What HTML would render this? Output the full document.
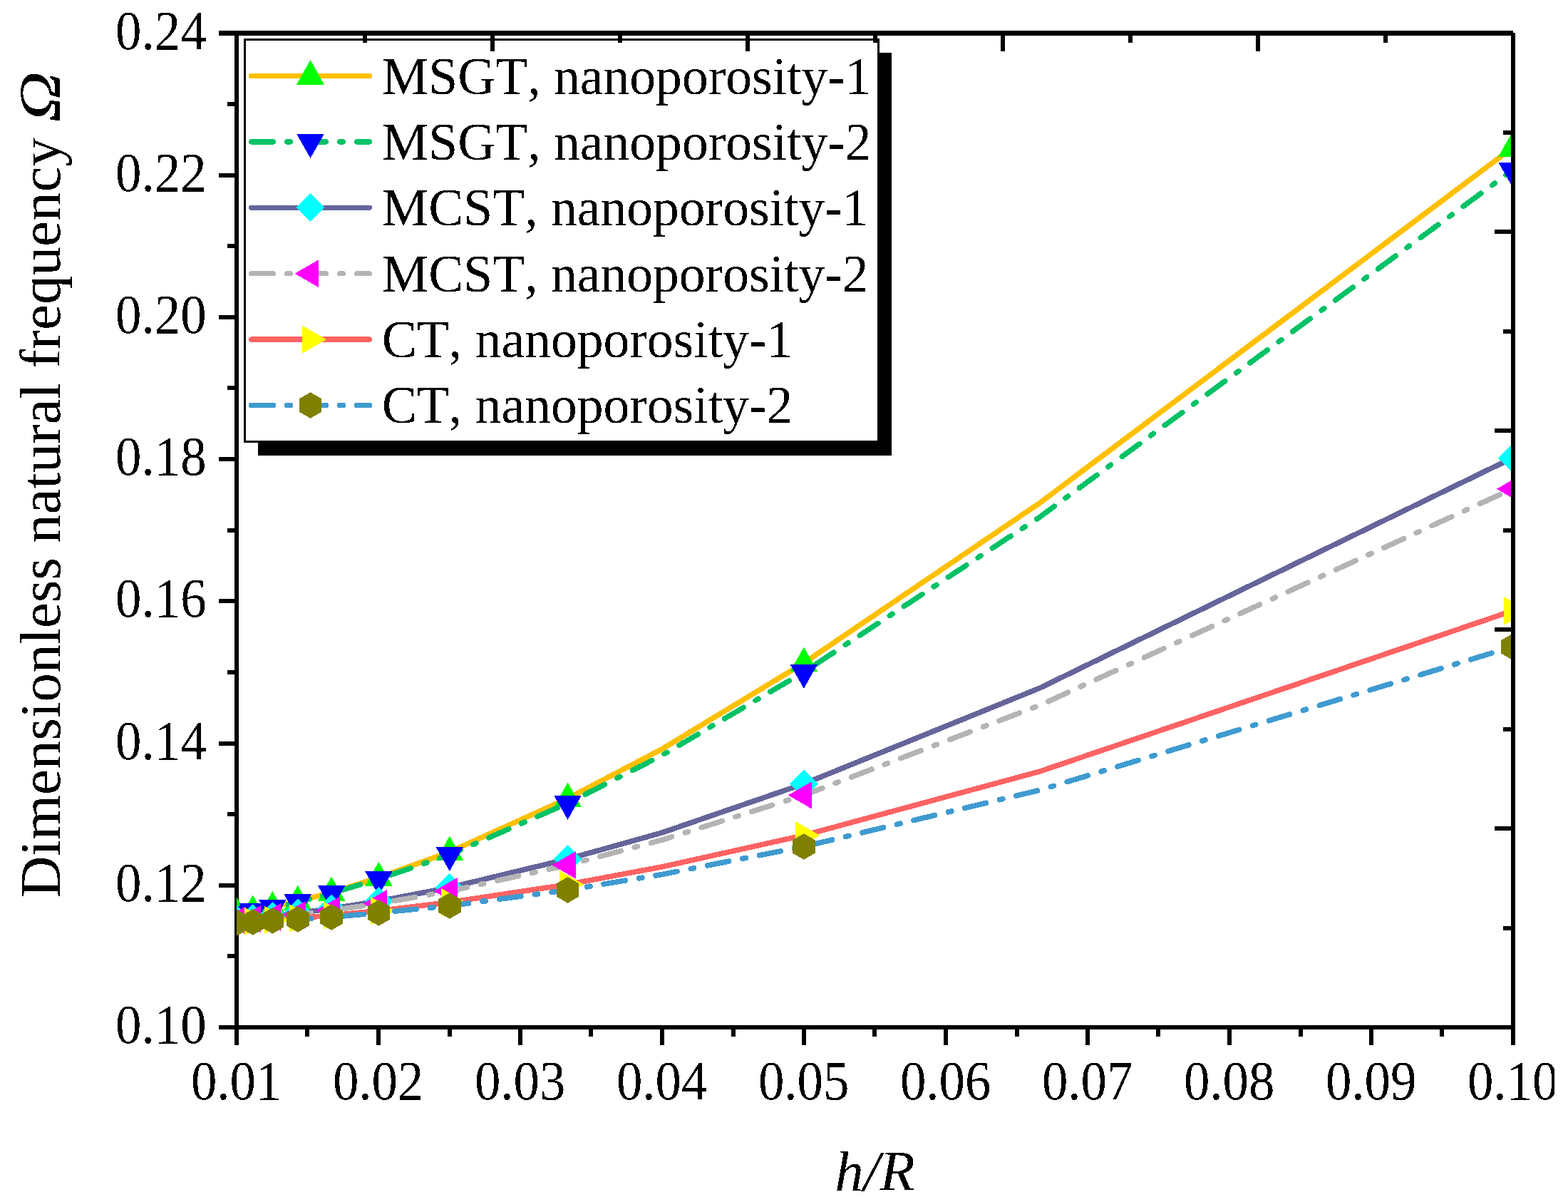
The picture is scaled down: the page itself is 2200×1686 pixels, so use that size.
<!DOCTYPE html>
<html lang="en"><head><meta charset="utf-8"><title>Dimensionless natural frequency versus h/R</title>
<style>html,body{margin:0;padding:0;background:#fff}body{width:2200px;height:1686px;overflow:hidden}svg{display:block}text{font-family:"Liberation Serif","Times New Roman",serif;fill:#000;font-kerning:none}</style></head><body>
<svg width="2200" height="1686" viewBox="0 0 2200 1686">
<rect width="2200" height="1686" fill="#fff"/>
<defs><clipPath id="plot"><rect x="332" y="50" width="1788" height="1388"/></clipPath><filter id="bw" x="0" y="0" width="100%" height="100%" filterUnits="userSpaceOnUse" color-interpolation-filters="sRGB"><feComponentTransfer><feFuncA type="discrete" tableValues="0 1"/></feComponentTransfer></filter></defs>
<g shape-rendering="crispEdges">
<rect x="362" y="74" width="889" height="565" fill="#000"/>
<rect x="343.5" y="55.5" width="889" height="564" fill="#fff" stroke="#000" stroke-width="3"/>
<path d="M352.75,106.5 L518.25,106.5" fill="none" stroke="#FFC000" stroke-width="7.5" stroke-linecap="round"/>
<polygon points="435.5,84.0 455.0,118.8 416.0,118.8" fill="#00FF00"/>
<path d="M352.75,198.9 L518.25,198.9" fill="none" stroke="#00C266" stroke-width="7.5" stroke-linecap="round" stroke-dasharray="30.5 19.5 4.5 19.5"/>
<polygon points="416.0,187.6 455.0,187.6 435.5,221.9" fill="#0000FF"/>
<path d="M352.75,291.3 L518.25,291.3" fill="none" stroke="#65659B" stroke-width="7.5" stroke-linecap="round"/>
<polygon points="435.5,271.3 455.5,291.3 435.5,311.3 415.5,291.3" fill="#00FFFF"/>
<path d="M352.75,383.7 L518.25,383.7" fill="none" stroke="#B4B4B4" stroke-width="7.5" stroke-linecap="round" stroke-dasharray="30.5 19.5 4.5 19.5"/>
<polygon points="413.5,383.7 447.0,364.4 447.0,403.0" fill="#FF00FF"/>
<path d="M352.75,476.1 L518.25,476.1" fill="none" stroke="#FF6363" stroke-width="7.5" stroke-linecap="round"/>
<polygon points="424.0,456.5 458.2,476.1 424.0,495.7" fill="#FFFF00"/>
<path d="M352.75,568.5 L518.25,568.5" fill="none" stroke="#3F9BD0" stroke-width="7.5" stroke-linecap="round" stroke-dasharray="30.5 19.5 4.5 19.5"/>
<polygon points="435.5,550.2 451.2,559.4 451.2,577.6 435.5,586.8 419.8,577.6 419.8,559.4" fill="#808000"/>
</g>
<g filter="url(#bw)">
<text transform="translate(535.8,131.8) scale(1,1.02)" font-size="73.6">MSGT, nanoporosity-1</text>
<text transform="translate(535.8,224.1) scale(1,1.02)" font-size="73.6">MSGT, nanoporosity-2</text>
<text transform="translate(535.8,316.4) scale(1,1.02)" font-size="73.6">MCST, nanoporosity-1</text>
<text transform="translate(535.8,408.7) scale(1,1.02)" font-size="73.6">MCST, nanoporosity-2</text>
<text transform="translate(535.8,501.0) scale(1,1.02)" font-size="73.6">CT, nanoporosity-1</text>
<text transform="translate(535.8,593.3) scale(1,1.02)" font-size="73.6">CT, nanoporosity-2</text>
</g>
<g fill="#000" shape-rendering="crispEdges">
<rect x="329" y="43" width="6" height="1423"/>
<rect x="2120" y="46" width="6" height="1420"/>
<rect x="307" y="43" width="1816" height="7"/>
<rect x="307" y="1438" width="1819" height="6"/>
<rect x="319" y="1338" width="13" height="6"/>
<rect x="307" y="1239" width="25" height="6"/>
<rect x="319" y="1139" width="13" height="6"/>
<rect x="307" y="1040" width="25" height="6"/>
<rect x="319" y="940" width="13" height="6"/>
<rect x="307" y="840" width="25" height="6"/>
<rect x="319" y="741" width="13" height="6"/>
<rect x="307" y="641" width="25" height="6"/>
<rect x="319" y="541" width="13" height="6"/>
<rect x="307" y="442" width="25" height="6"/>
<rect x="319" y="342" width="13" height="6"/>
<rect x="307" y="243" width="25" height="6"/>
<rect x="319" y="143" width="13" height="6"/>
<rect x="2109" y="183" width="14" height="6"/>
<rect x="2097" y="322" width="26" height="6"/>
<rect x="2109" y="462" width="14" height="6"/>
<rect x="2097" y="601" width="26" height="6"/>
<rect x="2109" y="741" width="14" height="6"/>
<rect x="2097" y="880" width="26" height="6"/>
<rect x="2109" y="1020" width="14" height="6"/>
<rect x="2097" y="1159" width="26" height="6"/>
<rect x="2109" y="1299" width="14" height="6"/>
<rect x="428" y="1441" width="6" height="13"/>
<rect x="528" y="1441" width="6" height="25"/>
<rect x="628" y="1441" width="6" height="13"/>
<rect x="727" y="1441" width="6" height="25"/>
<rect x="826" y="1441" width="6" height="13"/>
<rect x="926" y="1441" width="6" height="25"/>
<rect x="1026" y="1441" width="6" height="13"/>
<rect x="1125" y="1441" width="6" height="25"/>
<rect x="1224" y="1441" width="6" height="13"/>
<rect x="1324" y="1441" width="6" height="25"/>
<rect x="1424" y="1441" width="6" height="13"/>
<rect x="1523" y="1441" width="6" height="25"/>
<rect x="1622" y="1441" width="6" height="13"/>
<rect x="1722" y="1441" width="6" height="25"/>
<rect x="1822" y="1441" width="6" height="13"/>
<rect x="1921" y="1441" width="6" height="25"/>
<rect x="2020" y="1441" width="6" height="13"/>
<rect x="509" y="46" width="6" height="14"/>
<rect x="688" y="46" width="6" height="26"/>
<rect x="867" y="46" width="6" height="14"/>
<rect x="1046" y="46" width="6" height="26"/>
<rect x="1225" y="46" width="6" height="14"/>
<rect x="1404" y="46" width="6" height="26"/>
<rect x="1583" y="46" width="6" height="14"/>
<rect x="1762" y="46" width="6" height="26"/>
<rect x="1941" y="46" width="6" height="14"/>
</g>
<g clip-path="url(#plot)" shape-rendering="crispEdges">
<path d="M2121.8,207.5 L1459.1,705.3 L1127.8,930.0 L929.0,1050.6 L796.5,1120.0 L630.8,1195.0 L531.4,1231.0 L465.1,1252.0 L417.8,1264.2 L382.3,1272.3 L354.7,1277.8 L332.6,1281.7" fill="none" stroke="#FFC000" stroke-width="7.5" stroke-linecap="round" stroke-linejoin="round"/>
<polygon points="2121.8,185.0 2141.3,219.8 2102.3,219.8" fill="#00FF00"/>
<polygon points="1127.8,907.5 1147.3,942.3 1108.3,942.3" fill="#00FF00"/>
<polygon points="796.5,1097.5 816.0,1132.3 777.0,1132.3" fill="#00FF00"/>
<polygon points="630.8,1172.5 650.3,1207.3 611.3,1207.3" fill="#00FF00"/>
<polygon points="531.4,1208.5 550.9,1243.3 511.9,1243.3" fill="#00FF00"/>
<polygon points="465.1,1229.5 484.6,1264.3 445.6,1264.3" fill="#00FF00"/>
<polygon points="417.8,1241.7 437.3,1276.5 398.3,1276.5" fill="#00FF00"/>
<polygon points="382.3,1249.8 401.8,1284.6 362.8,1284.6" fill="#00FF00"/>
<polygon points="354.7,1255.3 374.2,1290.1 335.2,1290.1" fill="#00FF00"/>
<polygon points="332.6,1259.2 352.1,1294.0 313.1,1294.0" fill="#00FF00"/>
<path d="M2121.8,239.0 L1459.1,725.0 L1127.8,942.8 L929.0,1059.4 L796.5,1126.8 L630.8,1199.0 L531.4,1233.0 L465.1,1252.9 L417.8,1265.4 L382.3,1273.0 L354.7,1278.2 L332.6,1281.9" fill="none" stroke="#00C266" stroke-width="7.5" stroke-linecap="round" stroke-linejoin="round" stroke-dasharray="30.59 19.56 4.51 19.56" stroke-dashoffset="19.6"/>
<polygon points="2102.3,227.7 2141.3,227.7 2121.8,262.0" fill="#0000FF"/>
<polygon points="1108.3,931.5 1147.3,931.5 1127.8,965.8" fill="#0000FF"/>
<polygon points="777.0,1115.5 816.0,1115.5 796.5,1149.8" fill="#0000FF"/>
<polygon points="611.3,1187.7 650.3,1187.7 630.8,1222.0" fill="#0000FF"/>
<polygon points="511.9,1221.7 550.9,1221.7 531.4,1256.0" fill="#0000FF"/>
<polygon points="445.6,1241.6 484.6,1241.6 465.1,1275.9" fill="#0000FF"/>
<polygon points="398.3,1254.1 437.3,1254.1 417.8,1288.4" fill="#0000FF"/>
<polygon points="362.8,1261.7 401.8,1261.7 382.3,1296.0" fill="#0000FF"/>
<polygon points="335.2,1266.9 374.2,1266.9 354.7,1301.2" fill="#0000FF"/>
<polygon points="313.1,1270.6 352.1,1270.6 332.6,1304.9" fill="#0000FF"/>
<path d="M2121.8,642.5 L1459.1,965.0 L1127.8,1099.5 L929.0,1167.9 L796.5,1205.0 L630.8,1245.0 L531.4,1264.0 L465.1,1274.5 L417.8,1280.8 L382.3,1284.9 L354.7,1287.8 L332.6,1289.8" fill="none" stroke="#65659B" stroke-width="7.5" stroke-linecap="round" stroke-linejoin="round"/>
<polygon points="2121.8,622.5 2141.8,642.5 2121.8,662.5 2101.8,642.5" fill="#00FFFF"/>
<polygon points="1127.8,1079.5 1147.8,1099.5 1127.8,1119.5 1107.8,1099.5" fill="#00FFFF"/>
<polygon points="796.5,1185.0 816.5,1205.0 796.5,1225.0 776.5,1205.0" fill="#00FFFF"/>
<polygon points="630.8,1225.0 650.8,1245.0 630.8,1265.0 610.8,1245.0" fill="#00FFFF"/>
<polygon points="531.4,1244.0 551.4,1264.0 531.4,1284.0 511.4,1264.0" fill="#00FFFF"/>
<polygon points="465.1,1254.5 485.1,1274.5 465.1,1294.5 445.1,1274.5" fill="#00FFFF"/>
<polygon points="417.8,1260.8 437.8,1280.8 417.8,1300.8 397.8,1280.8" fill="#00FFFF"/>
<polygon points="382.3,1264.9 402.3,1284.9 382.3,1304.9 362.3,1284.9" fill="#00FFFF"/>
<polygon points="354.7,1267.8 374.7,1287.8 354.7,1307.8 334.7,1287.8" fill="#00FFFF"/>
<polygon points="332.6,1269.8 352.6,1289.8 332.6,1309.8 312.6,1289.8" fill="#00FFFF"/>
<path d="M2121.8,685.8 L1459.1,989.2 L1127.8,1115.4 L929.0,1178.1 L796.5,1213.4 L630.8,1250.0 L531.4,1267.4 L465.1,1277.0 L417.8,1282.8 L382.3,1286.5 L354.7,1289.1 L332.6,1291.0" fill="none" stroke="#B4B4B4" stroke-width="7.5" stroke-linecap="round" stroke-linejoin="round" stroke-dasharray="30.50 19.50 4.50 19.50" stroke-dashoffset="-19.5"/>
<polygon points="2099.8,685.8 2133.3,666.5 2133.3,705.1" fill="#FF00FF"/>
<polygon points="1105.8,1115.4 1139.3,1096.1 1139.3,1134.7" fill="#FF00FF"/>
<polygon points="774.5,1213.4 808.0,1194.1 808.0,1232.7" fill="#FF00FF"/>
<polygon points="608.8,1250.0 642.3,1230.7 642.3,1269.3" fill="#FF00FF"/>
<polygon points="509.4,1267.4 542.9,1248.1 542.9,1286.7" fill="#FF00FF"/>
<polygon points="443.1,1277.0 476.6,1257.7 476.6,1296.3" fill="#FF00FF"/>
<polygon points="395.8,1282.8 429.3,1263.5 429.3,1302.1" fill="#FF00FF"/>
<polygon points="360.3,1286.5 393.8,1267.2 393.8,1305.8" fill="#FF00FF"/>
<polygon points="332.7,1289.1 366.2,1269.8 366.2,1308.4" fill="#FF00FF"/>
<polygon points="310.6,1291.0 344.1,1271.7 344.1,1310.3" fill="#FF00FF"/>
<path d="M2121.8,856.9 L1459.1,1082.0 L1127.8,1171.7 L929.0,1215.8 L796.5,1240.6 L630.8,1265.6 L531.4,1277.5 L465.1,1284.0 L417.8,1288.0 L382.3,1290.5 L354.7,1292.3 L332.6,1293.6" fill="none" stroke="#FF6363" stroke-width="7.5" stroke-linecap="round" stroke-linejoin="round"/>
<polygon points="2110.3,837.3 2144.5,856.9 2110.3,876.5" fill="#FFFF00"/>
<polygon points="1116.3,1152.1 1150.5,1171.7 1116.3,1191.3" fill="#FFFF00"/>
<polygon points="785.0,1221.0 819.2,1240.6 785.0,1260.2" fill="#FFFF00"/>
<polygon points="619.3,1246.0 653.5,1265.6 619.3,1285.2" fill="#FFFF00"/>
<polygon points="519.9,1257.9 554.1,1277.5 519.9,1297.1" fill="#FFFF00"/>
<polygon points="453.6,1264.4 487.8,1284.0 453.6,1303.6" fill="#FFFF00"/>
<polygon points="406.3,1268.4 440.5,1288.0 406.3,1307.6" fill="#FFFF00"/>
<polygon points="370.8,1270.9 405.0,1290.5 370.8,1310.1" fill="#FFFF00"/>
<polygon points="343.2,1272.7 377.4,1292.3 343.2,1311.9" fill="#FFFF00"/>
<polygon points="321.1,1274.0 355.3,1293.6 321.1,1313.2" fill="#FFFF00"/>
<path d="M2121.8,907.4 L1459.1,1108.2 L1127.8,1187.5 L929.0,1226.5 L796.5,1248.4 L630.8,1270.5 L531.4,1280.4 L465.1,1286.5 L417.8,1289.4 L382.3,1291.4 L354.7,1293.4 L332.6,1294.2" fill="none" stroke="#3F9BD0" stroke-width="7.5" stroke-linecap="round" stroke-linejoin="round" stroke-dasharray="30.50 19.50 4.50 19.50" stroke-dashoffset="-30.2"/>
<polygon points="2121.8,889.1 2137.5,898.2 2137.5,916.5 2121.8,925.7 2106.1,916.5 2106.1,898.2" fill="#808000"/>
<polygon points="1127.8,1169.2 1143.5,1178.3 1143.5,1196.7 1127.8,1205.8 1112.1,1196.7 1112.1,1178.3" fill="#808000"/>
<polygon points="796.5,1230.1 812.2,1239.2 812.2,1257.6 796.5,1266.7 780.8,1257.6 780.8,1239.2" fill="#808000"/>
<polygon points="630.8,1252.2 646.5,1261.3 646.5,1279.7 630.8,1288.8 615.1,1279.7 615.1,1261.3" fill="#808000"/>
<polygon points="531.4,1262.1 547.1,1271.2 547.1,1289.6 531.4,1298.7 515.7,1289.6 515.7,1271.2" fill="#808000"/>
<polygon points="465.1,1268.2 480.8,1277.3 480.8,1295.7 465.1,1304.8 449.4,1295.7 449.4,1277.3" fill="#808000"/>
<polygon points="417.8,1271.1 433.5,1280.2 433.5,1298.6 417.8,1307.7 402.1,1298.6 402.1,1280.2" fill="#808000"/>
<polygon points="382.3,1273.1 398.0,1282.2 398.0,1300.6 382.3,1309.7 366.6,1300.6 366.6,1282.2" fill="#808000"/>
<polygon points="354.7,1275.1 370.4,1284.2 370.4,1302.6 354.7,1311.7 339.0,1302.6 339.0,1284.2" fill="#808000"/>
<polygon points="332.6,1275.9 348.3,1285.0 348.3,1303.4 332.6,1312.5 316.9,1303.4 316.9,1285.0" fill="#808000"/>
</g>
<g filter="url(#bw)">
<text transform="translate(289.6,1463.2) scale(0.985,1.045)" text-anchor="end" font-size="74">0.10</text>
<text transform="translate(289.6,1264.0) scale(0.985,1.045)" text-anchor="end" font-size="74">0.12</text>
<text transform="translate(289.6,1064.7) scale(0.985,1.045)" text-anchor="end" font-size="74">0.14</text>
<text transform="translate(289.6,865.5) scale(0.985,1.045)" text-anchor="end" font-size="74">0.16</text>
<text transform="translate(289.6,666.3) scale(0.985,1.045)" text-anchor="end" font-size="74">0.18</text>
<text transform="translate(289.6,467.1) scale(0.985,1.045)" text-anchor="end" font-size="74">0.20</text>
<text transform="translate(289.6,267.8) scale(0.985,1.045)" text-anchor="end" font-size="74">0.22</text>
<text transform="translate(289.6,68.6) scale(0.985,1.045)" text-anchor="end" font-size="74">0.24</text>
<text transform="translate(331.7,1542.3) scale(0.985,1.045)" text-anchor="middle" font-size="74">0.01</text>
<text transform="translate(530.7,1542.3) scale(0.985,1.045)" text-anchor="middle" font-size="74">0.02</text>
<text transform="translate(729.7,1542.3) scale(0.985,1.045)" text-anchor="middle" font-size="74">0.03</text>
<text transform="translate(928.7,1542.3) scale(0.985,1.045)" text-anchor="middle" font-size="74">0.04</text>
<text transform="translate(1127.7,1542.3) scale(0.985,1.045)" text-anchor="middle" font-size="74">0.05</text>
<text transform="translate(1326.7,1542.3) scale(0.985,1.045)" text-anchor="middle" font-size="74">0.06</text>
<text transform="translate(1525.7,1542.3) scale(0.985,1.045)" text-anchor="middle" font-size="74">0.07</text>
<text transform="translate(1724.7,1542.3) scale(0.985,1.045)" text-anchor="middle" font-size="74">0.08</text>
<text transform="translate(1923.7,1542.3) scale(0.985,1.045)" text-anchor="middle" font-size="74">0.09</text>
<text transform="translate(2122.7,1542.3) scale(0.985,1.045)" text-anchor="middle" font-size="74">0.10</text>
<text x="1171.3" y="1670.1" font-size="81" font-style="italic">h/R</text>
<text transform="translate(84,1259.2) rotate(-90)" font-size="81">Dimensionless natural frequency</text>
<text transform="translate(84,171.5) rotate(-90) scale(1.22,1.03)" font-size="81" font-style="italic">Ω</text>
</g>
<rect x="2181" y="1470" width="19" height="90" fill="#fff"/>
</svg></body></html>
